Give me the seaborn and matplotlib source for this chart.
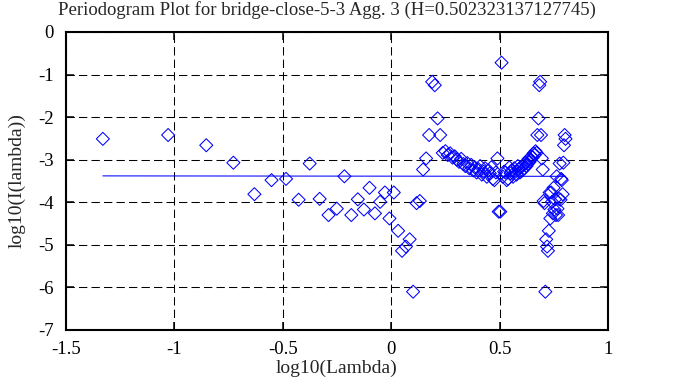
import numpy as np
import pandas as pd
import matplotlib
matplotlib.use("Agg")
import matplotlib.pyplot as plt
import seaborn as sns
from matplotlib.ticker import FuncFormatter

# log10 of the frequencies
log_lambda = [
    -1.330, -1.029, -0.853, -0.728, -0.631, -0.552, -0.485, -0.427, -0.376, -0.330,
    -0.289, -0.251, -0.216, -0.184, -0.154, -0.126, -0.100, -0.075, -0.051, -0.029,
    -0.008, 0.012, 0.032, 0.050, 0.068, 0.085, 0.101, 0.117, 0.132, 0.147,
    0.161, 0.175, 0.189, 0.201, 0.214, 0.226, 0.238, 0.250, 0.261, 0.272,
    0.283, 0.293, 0.303, 0.313, 0.323, 0.333, 0.342, 0.351, 0.360, 0.369,
    0.378, 0.386, 0.394, 0.402, 0.410, 0.418, 0.426, 0.433, 0.441, 0.448,
    0.455, 0.462, 0.469, 0.476, 0.483, 0.490, 0.496, 0.503, 0.509, 0.515,
    0.521, 0.527, 0.533, 0.539, 0.545, 0.551, 0.556, 0.562, 0.568, 0.573,
    0.578, 0.584, 0.589, 0.594, 0.599, 0.605, 0.610, 0.614, 0.619, 0.624,
    0.629, 0.634, 0.638, 0.643, 0.648, 0.652, 0.657, 0.661, 0.666, 0.670,
    0.674, 0.679, 0.683, 0.687, 0.691, 0.695, 0.699, 0.703, 0.707, 0.711,
    0.715, 0.719, 0.723, 0.727, 0.731, 0.734, 0.738, 0.742, 0.746, 0.749,
    0.753, 0.756, 0.760, 0.763, 0.767, 0.770, 0.774, 0.777, 0.781, 0.784,
    0.787, 0.791, 0.794, 0.797, 0.800, 0.804,
]

# log10 of the periodogram values
log_I = [
    -2.51, -2.42, -2.66, -3.07, -3.81, -3.48, -3.45, -3.94, -3.09, -3.92,
    -4.30, -4.15, -3.39, -4.30, -3.93, -4.17, -3.66, -4.26, -3.99, -3.77,
    -4.38, -3.77, -4.67, -5.14, -5.04, -4.87, -6.10, -4.02, -3.97, -3.23,
    -2.97, -2.42, -1.17, -1.25, -2.03, -2.42, -2.84, -2.80, -2.89, -2.85,
    -2.95, -2.92, -3.00, -3.05, -2.98, -3.10, -3.15, -3.08, -3.20, -3.12,
    -3.25, -3.18, -3.30, -3.22, -3.15, -3.35, -3.28, -3.20, -3.40, -3.25,
    -3.32, -3.18, -3.45, -3.48, -3.30, -2.97, -4.22, -4.22, -0.72, -3.40,
    -3.28, -3.30, -3.48, -3.45, -3.18, -3.32, -3.25, -3.40, -3.20, -3.28,
    -3.35, -3.15, -3.22, -3.30, -3.18, -3.25, -3.12, -3.20, -3.08, -3.15,
    -3.10, -2.98, -3.05, -3.00, -2.92, -2.95, -2.85, -2.89, -2.80, -2.84,
    -2.42, -2.03, -1.25, -1.17, -2.42, -2.97, -3.23, -3.97, -4.02, -6.10,
    -4.87, -5.04, -5.14, -4.67, -3.77, -4.38, -3.77, -3.99, -4.26, -3.66,
    -4.17, -3.93, -4.30, -3.39, -4.15, -4.30, -3.92, -3.09, -3.94, -3.45,
    -3.48, -3.81, -3.07, -2.66, -2.42, -2.51,
]

# fitted line end points
fit_x = [-1.330, 0.804]
fit_y = [-3.38, -3.39]

x_ticks = [-1.5, -1, -0.5, 0, 0.5, 1]
y_ticks = [0, -1, -2, -3, -4, -5, -6, -7]

title = "Periodogram Plot for bridge-close-5-3 Agg. 3 (H=0.502323137127745)"

df = pd.DataFrame({"x": log_lambda, "y": log_I})

sns.set_style("white")
plt.rcParams["font.family"] = ["Liberation Serif", "DejaVu Serif"]
plt.rcParams["axes.unicode_minus"] = False

fig = plt.figure(figsize=(6.74, 3.87), dpi=100)
ax = fig.add_axes([66 / 674, 57 / 387, 542 / 674, 298 / 387])

blue = "#0000ff"
sns.lineplot(x=fit_x, y=fit_y, color=blue, lw=0.75, ax=ax, zorder=3)
sns.scatterplot(data=df, x="x", y="y", marker="D", s=44, facecolor="none",
                edgecolor=blue, linewidth=0.75, ax=ax, zorder=4)

ax.set_xlim(-1.5, 1)
ax.set_ylim(-7, 0)
ax.set_xticks(x_ticks)
ax.set_yticks(y_ticks)
fmt = FuncFormatter(lambda v, p: "%g" % v)
ax.xaxis.set_major_formatter(fmt)
ax.yaxis.set_major_formatter(fmt)

ax.grid(True, color="black", lw=0.75, ls=(0, (8, 4)))
ax.tick_params(direction="in", length=5.5, width=1.1, labelsize=13.5,
               top=True, right=True, bottom=True, left=True,
               colors="black")
ax.tick_params(axis="x", pad=8)
ax.tick_params(axis="y", pad=9)
for s in ax.spines.values():
    s.set_color("black")
    s.set_linewidth(1.5)

ax.set_xlabel("log10(Lambda)", fontsize=14, labelpad=1)
ax.set_ylabel("log10(I(lambda))", fontsize=14, labelpad=9)
fig.text(327 / 674, 1 - 10 / 387, title, ha="center", va="center", fontsize=13.5)

fig.savefig("out.png", dpi=100, facecolor="white")
